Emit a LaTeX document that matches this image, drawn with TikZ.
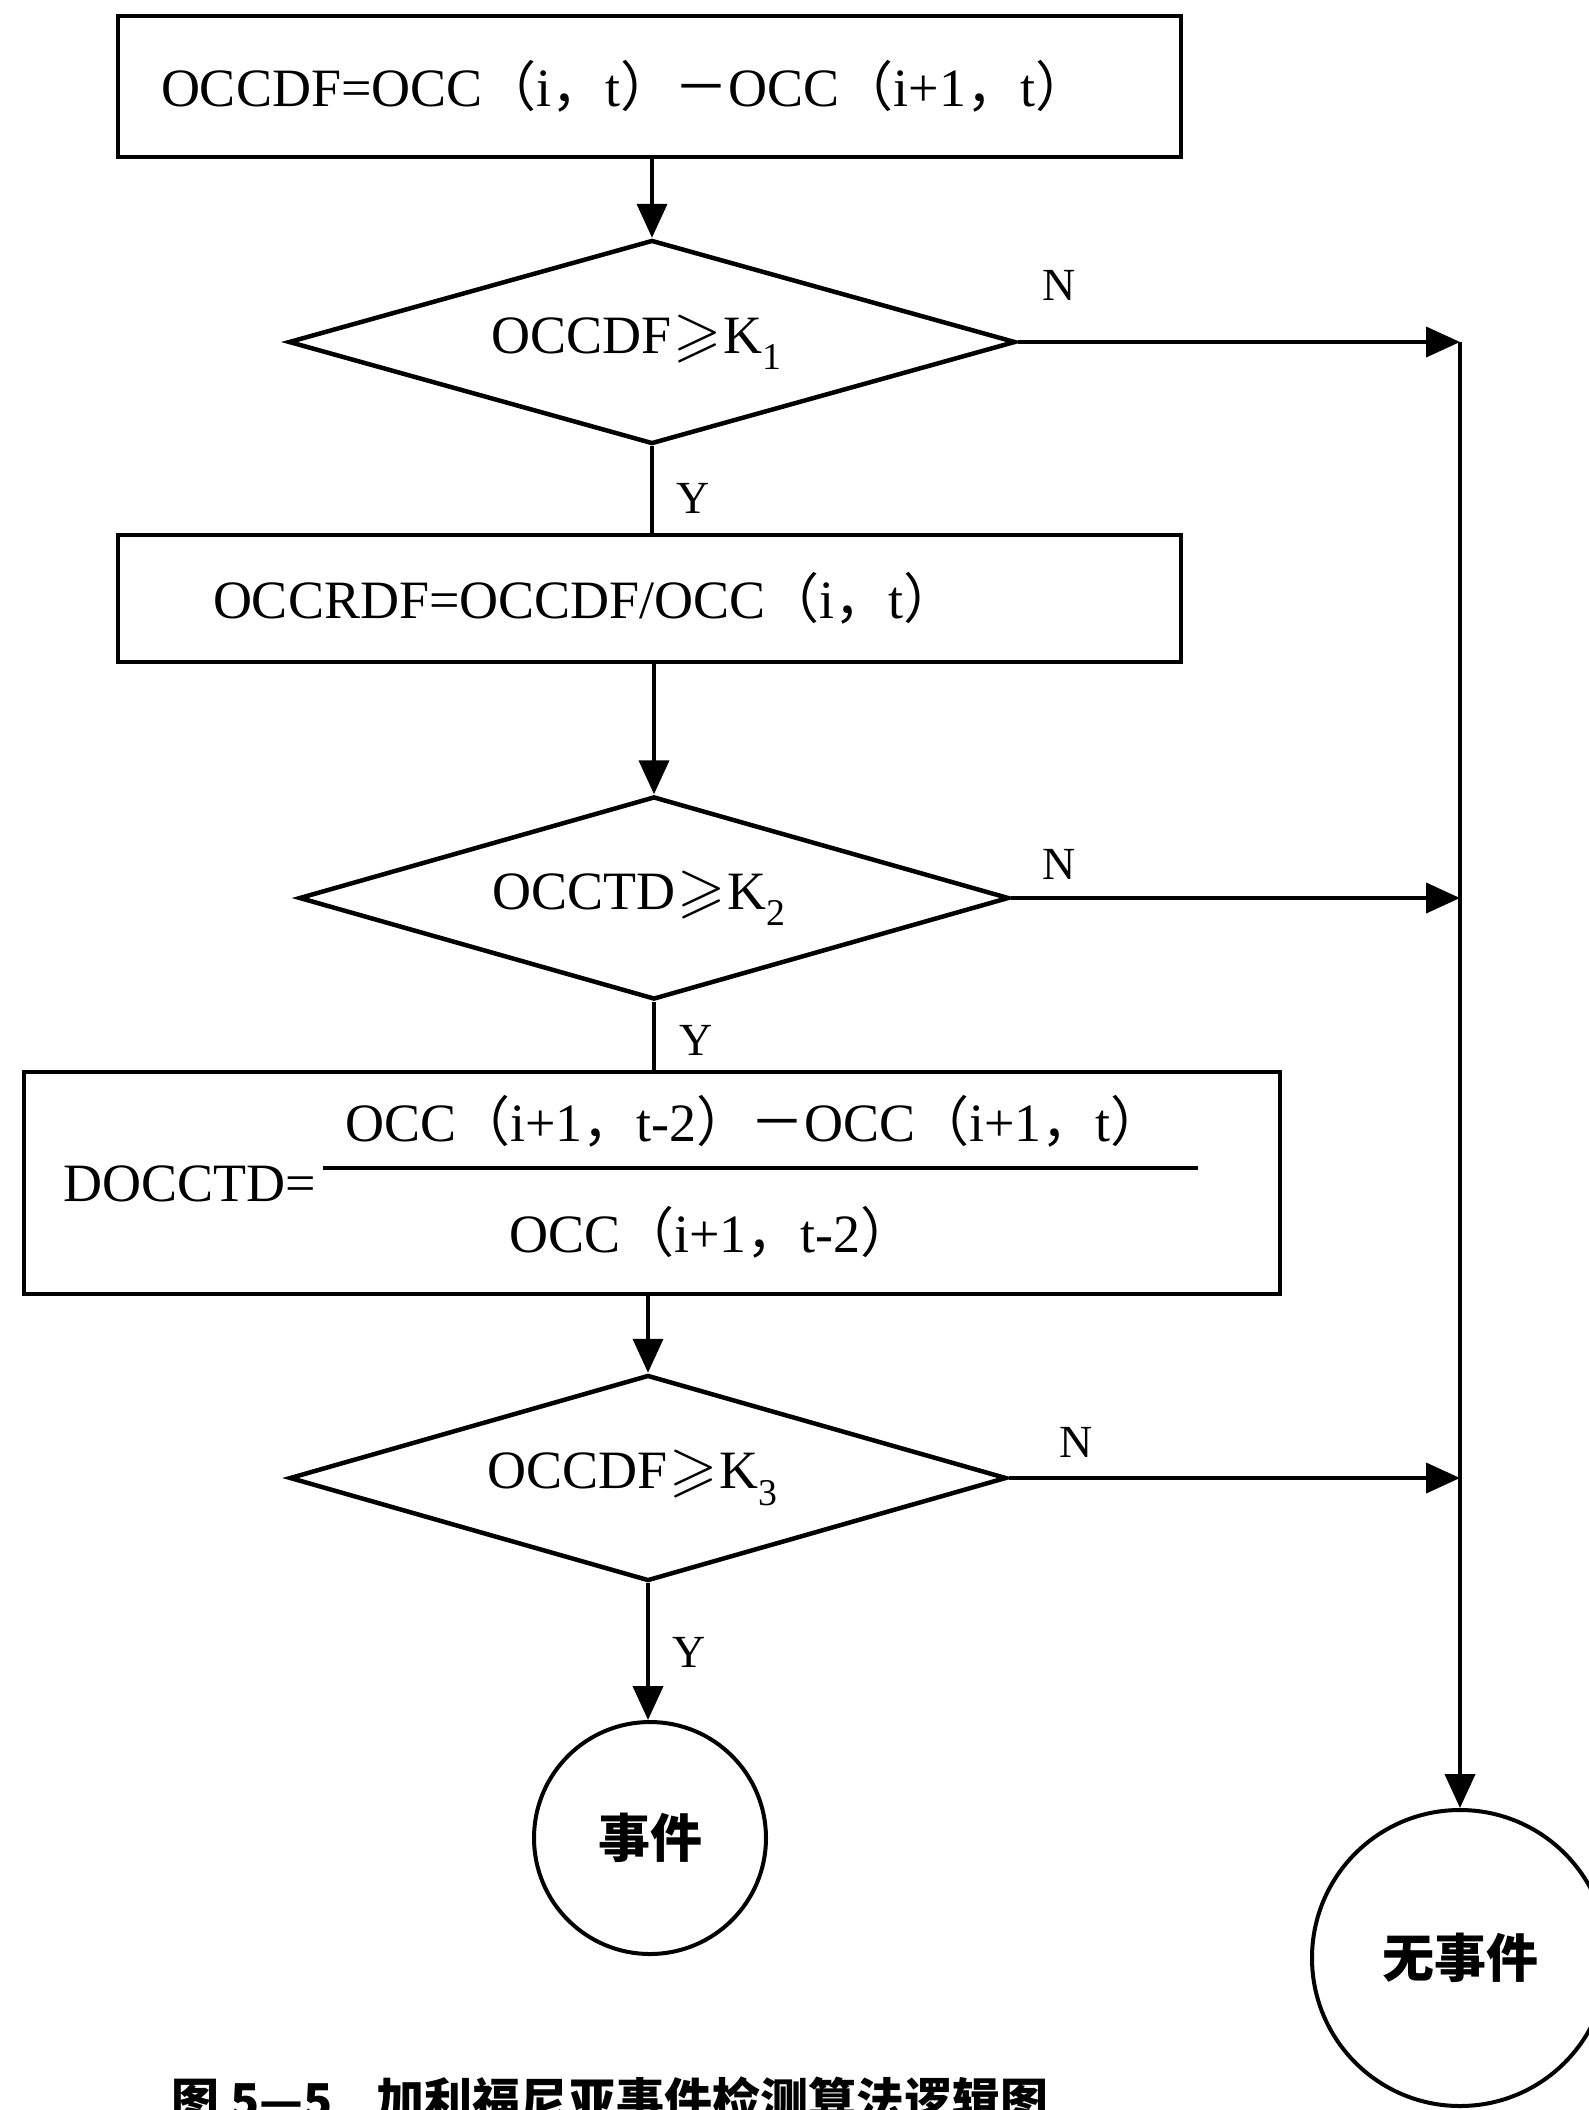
\documentclass[tikz,border=0pt]{standalone}
\usepackage{fontspec}
\usepackage{graphicx}
\usepackage{amssymb}
\setmainfont{Liberation Serif}
\newfontfamily\cjk{Noto Sans CJK SC}
\usetikzlibrary{shapes.geometric,arrows.meta}

% full-width punctuation taken from the CJK face
\newcommand\fwlp{{\cjk （}}
\newcommand\fwrp{{\cjk ）}}
\newcommand\fwcm{{\cjk ，}}
\newcommand\fwmn{{\cjk －}}
% slanted greater-or-equal, scaled from its 10pt size
\newcommand\slge{{\fontsize{10}{12}\selectfont\hspace{2pt}\raisebox{-1pt}{\scalebox{6.2}{$\geqslant$}}\hspace{2pt}}}
% condition text sits a little left of the diamond centre
\newcommand\cond[1]{\hspace*{-30pt}#1}

\begin{document}
\begin{tikzpicture}[x=1pt,y=-1pt,
  txt/.style={font=\fontsize{54}{62}\selectfont},
  lbl/.style={font=\fontsize{46}{50}\selectfont},
  procbox/.style={draw,rectangle,line width=4.5pt,inner sep=0pt,txt,align=left},
  decision/.style={draw,diamond,shape aspect=3.6,line width=4.5pt,inner sep=0pt,txt},
  terminal/.style={draw,circle,line width=4pt,inner sep=0pt,
    font=\cjk\bfseries\fontsize{52}{60}\selectfont},
  flow/.style={line width=4pt},
  arr/.style={flow,-{Triangle[length=34pt,width=30pt]}}]

\useasboundingbox (0,0) rectangle (1589,2110);
\fill[white] (0,0) rectangle (1589,2110);
\clip (0,0) rectangle (1589,2110);

% process boxes and decisions of the main column
\node[procbox,minimum width=1063pt,minimum height=141pt,text width=977pt]
  (b1) at (649.5,86.5) {OCCDF=OCC\fwlp i\fwcm t\fwrp\fwmn OCC\fwlp i+1\fwcm t\fwrp};
\node[decision,minimum width=727pt,minimum height=204pt]
  (d1) at (652,342) {\cond{OCCDF\slge K\textsubscript{1}}};
\node[procbox,minimum width=1063pt,minimum height=127pt,text width=873pt]
  (b2) at (649.5,598.5) {OCCRDF=OCCDF/OCC\fwlp i\fwcm t\fwrp};
\node[decision,minimum width=710pt,minimum height=203pt]
  (d2) at (654,898) {\cond{OCCTD\slge K\textsubscript{2}}};
\node[procbox,minimum width=1256pt,minimum height=222pt]
  (b3) at (652,1183) {};
\node[txt,anchor=west] (dlhs) at (60,1184) {DOCCTD=};
\node[txt] (dnum) at (755,1121)
  {OCC\fwlp i+1\fwcm t-2\fwrp\fwmn OCC\fwlp i+1\fwcm t\fwrp};
\coordinate (barl) at (323,1168);
\coordinate (barr) at (1198,1168);
\draw[line width=4pt] (barl) -- (barr);
\node[txt] (dden) at (712,1232) {OCC\fwlp i+1\fwcm t-2\fwrp};
\node[decision,minimum width=717pt,minimum height=206pt]
  (d3) at (648,1478) {\cond{OCCDF\slge K\textsubscript{3}}};

% end states
\node[terminal,minimum size=232pt] (c1) at (650,1838) {事件};
\node[terminal,minimum size=296pt] (c2) at (1460,1958) {无事件};

% trunk on the right collecting the N branches
\coordinate (trunk) at (1460,340);

% connectors
\draw[arr] (b1.south -| d1.north) -- (d1.north);
\draw[flow] (d1.south) -- (d1.south |- b2.north);
\draw[arr] (b2.south -| d2.north) -- (d2.north);
\draw[flow] (d2.south) -- (d2.south |- b3.north);
\draw[arr] (b3.south -| d3.north) -- (d3.north);
\draw[arr] (d3.south) -- (d3.south |- c1.north);

\draw[arr] (d1.east) -- (d1.east -| trunk) coordinate (j1);
\draw[arr] (d2.east) -- (d2.east -| trunk) coordinate (j2);
\draw[arr] (d3.east) -- (d3.east -| trunk) coordinate (j3);
\draw[arr] (j1) -- (c2.north);

% branch labels
\node[lbl] (n1) at (1059,285) {N};
\node[lbl] (n2) at (1059,864) {N};
\node[lbl] (n3) at (1076,1442) {N};
\node[lbl] (y1) at (693,498) {Y};
\node[lbl] (y2) at (696,1040) {Y};
\node[lbl] (y3) at (689,1652) {Y};

% caption
\node[anchor=west,font=\cjk\bfseries\fontsize{48}{50}\selectfont]
  (cap) at (168,2100) {图 5—5\hspace{0.9em}加利福尼亚事件检测算法逻辑图};
\end{tikzpicture}
\end{document}
